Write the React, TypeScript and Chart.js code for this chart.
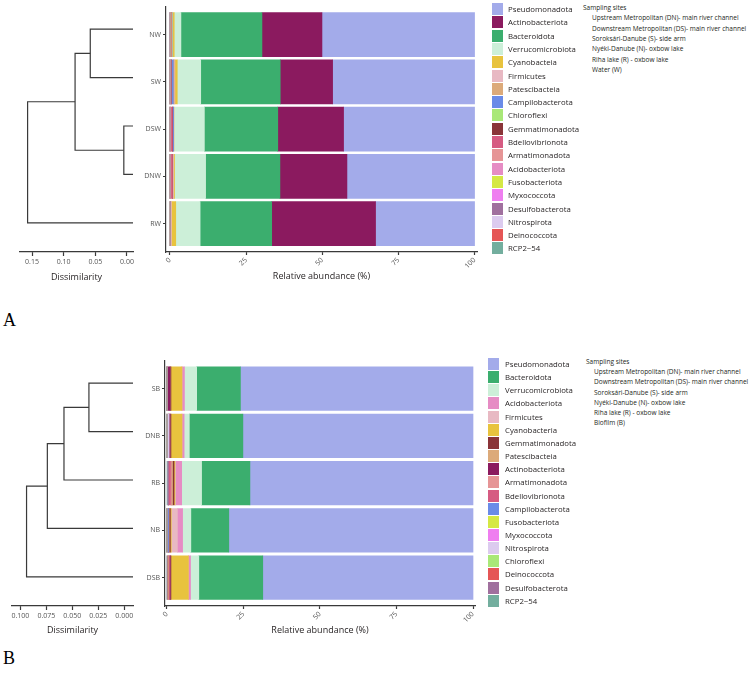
import React, { useEffect, useRef } from "react";
import { Chart, registerables } from "chart.js";
Chart.register(...registerables);

const FONT = "'Open Sans', sans-serif";

// ---------------- Panel A : Water ----------------
const sitesA = ["NW", "SW", "DSW", "DNW", "RW"];
const phylaA = [
  "Pseudomonadota", "Actinobacteriota", "Bacteroidota", "Verrucomicrobiota", "Cyanobacteria",
  "Firmicutes", "Patescibacteria", "Campilobacterota", "Chloroflexi", "Gemmatimonadota",
  "Bdellovibrionota", "Armatimonadota", "Acidobacteriota", "Fusobacteriota", "Myxococcota",
  "Desulfobacterota", "Nitrospirota", "Deinococcota", "RCP2-54",
];
const legendLabelsA = [
  "Pseudomonadota", "Actinobacteriota", "Bacteroidota", "Verrucomicrobiota", "Cyanobacteia",
  "Firmicutes", "Patescibacteia", "Campilobacterota", "Chloroflexi", "Gemmatimonadota",
  "Bdellovibrionota", "Armatimonadota", "Acidobacteriota", "Fusobacteriota", "Myxococcota",
  "Desulfobacterota", "Nitrospirota", "Deinococcota", "RCP2\u221254",
];
// relative abundance (%) per site, in phylaA order
const NW = [50.1, 19.7, 26.6, 2.2, 0.5, 0.2, 0, 0, 0.2, 0, 0.2, 0, 0, 0.3, 0, 0, 0, 0, 0];
const SW = [46.6, 17.2, 26.1, 7.7, 0.8, 0.2, 0.3, 0.7, 0, 0, 0.4, 0, 0, 0, 0, 0, 0, 0, 0];
const DSW = [43.0, 21.6, 24.1, 10.0, 0, 0.1, 0, 0.3, 0, 0.1, 0.5, 0.3, 0, 0, 0, 0, 0, 0, 0];
const DNW = [41.9, 22.0, 24.4, 10.2, 0.3, 0.2, 0.2, 0, 0, 0, 0.5, 0.3, 0, 0, 0, 0, 0, 0, 0];
const RW = [32.5, 34.1, 23.5, 8.0, 1.4, 0.2, 0.2, 0, 0, 0, 0, 0, 0, 0, 0, 0.1, 0, 0, 0];
// dendrogram: [child, child, height]; leaves 0..4, merges numbered from 5
const mergesA: [number, number, number][] = [[0, 1, 0.058], [2, 3, 0.005], [5, 6, 0.082], [7, 4, 0.157]];
const dissTicksA = [0.15, 0.1, 0.05, 0.0];
const sitesTextA = [
  "Upstream Metropolitan (DN)- main river channel",
  "Downstream Metropolitan (DS)- main river channel",
  "Soroksári-Danube (S)- side arm",
  "Nyéki-Danube (N)- oxbow lake",
  "Riha lake (R) - oxbow lake",
  "Water (W)",
];

// ---------------- Panel B : Biofilm ----------------
const sitesB = ["SB", "DNB", "RB", "NB", "DSB"];
const phylaB = [
  "Pseudomonadota", "Bacteroidota", "Verrucomicrobiota", "Acidobacteriota", "Firmicutes",
  "Cyanobacteria", "Gemmatimonadota", "Patescibacteria", "Actinobacteriota", "Armatimonadota",
  "Bdellovibrionota", "Campilobacterota", "Fusobacteriota", "Myxococcota", "Nitrospirota",
  "Chloroflexi", "Deinococcota", "Desulfobacterota", "RCP2-54",
];
const legendLabelsB = [
  "Pseudomonadota", "Bacteroidota", "Verrucomicrobiota", "Acidobacteriota", "Firmicutes",
  "Cyanobacteria", "Gemmatimonadota", "Patescibacteia", "Actinobacteriota", "Armatimonadota",
  "Bdellovibrionota", "Campilobacterota", "Fusobacteriota", "Myxococcota", "Nitrospirota",
  "Chloroflexi", "Deinococcota", "Desulfobacterota", "RCP2\u221254",
];
const SB = [76.0, 14.3, 4.0, 0.8, 0, 3.6, 0.3, 0, 1.0, 0, 0, 0, 0, 0, 0, 0, 0, 0, 0];
const DNB = [75.2, 17.5, 1.7, 0.7, 0, 3.6, 0.3, 0, 0.4, 0, 0, 0, 0, 0, 0.6, 0, 0, 0, 0];
const RB = [72.9, 15.8, 6.5, 2.0, 0.2, 0.3, 0.5, 0.3, 0, 0.4, 0.6, 0, 0, 0, 0, 0, 0, 0.5, 0];
const NB = [79.8, 12.4, 2.7, 1.7, 2.0, 0.3, 0.4, 0.2, 0, 0, 0, 0.5, 0, 0, 0, 0, 0, 0, 0];
const DSB = [68.7, 20.9, 2.7, 0.7, 0, 5.7, 0.2, 0, 0.4, 0, 0.3, 0, 0, 0, 0, 0, 0.4, 0, 0];
const mergesB: [number, number, number][] = [[0, 1, 0.034], [5, 2, 0.058], [6, 3, 0.074], [7, 4, 0.094]];
const dissTicksB = [0.1, 0.075, 0.05, 0.025, 0.0];
const sitesTextB = [
  "Upstream Metropolitan (DN)- main river channel",
  "Downstream Metropolitan (DS)- main river channel",
  "Soroksári-Danube (S)- side arm",
  "Nyéki-Danube (N)- oxbow lake",
  "Riha lake (R) - oxbow lake",
  "Biofilm (B)",
];

const abundanceTicks = [0, 25, 50, 75, 100];

const COLORS: Record<string, string> = {
  Pseudomonadota: "#a3abea",
  Actinobacteriota: "#8b1a5f",
  Bacteroidota: "#3bae6e",
  Verrucomicrobiota: "#ccefd8",
  Cyanobacteria: "#e8c33e",
  Firmicutes: "#e8b9c3",
  Patescibacteria: "#dcaa7a",
  Campilobacterota: "#6a8be8",
  Chloroflexi: "#a9e878",
  Gemmatimonadota: "#8a3438",
  Bdellovibrionota: "#d65b82",
  Armatimonadota: "#e69596",
  Acidobacteriota: "#e68cc4",
  Fusobacteriota: "#d5e845",
  Myxococcota: "#ef7ef0",
  Desulfobacterota: "#a0709e",
  Nitrospirota: "#dccbef",
  Deinococcota: "#e55656",
  "RCP2-54": "#73ae9e",
};

const AXIS = "#3a3a3a";
const TICKTXT = "#555555";
const TEXT = "#231f20";

type DendroProps = {
  left: number; top: number; width: number; height: number;
  nLeaves: number; merges: [number, number, number][]; leafEnd: number;
  xMax: number; ticks: number[]; decimals: number;
  padLeft: number; padRight: number; axisHeight: number; titleGap: number;
};

function Dendrogram(p: DendroProps) {
  const ref = useRef<HTMLCanvasElement>(null);
  useEffect(() => {
    const pos: { x: number; y: number }[] = [];
    for (let i = 0; i < p.nLeaves; i++) pos.push({ x: p.leafEnd, y: i + 1 });
    const datasets = p.merges.map(([a, b, h]) => {
      const A = pos[a], B = pos[b];
      pos.push({ x: h, y: (A.y + B.y) / 2 });
      return {
        data: [{ x: A.x, y: A.y }, { x: h, y: A.y }, { x: h, y: B.y }, { x: B.x, y: B.y }],
        showLine: true, borderColor: AXIS, borderWidth: 1.2, pointRadius: 0, fill: false, tension: 0,
        borderJoinStyle: "miter" as const,
      };
    });
    const chart = new Chart(ref.current!, {
      type: "scatter",
      data: { datasets },
      options: {
        animation: false, responsive: false, devicePixelRatio: 1,
        layout: { padding: { left: p.padLeft, right: p.padRight, top: 0, bottom: 0 } },
        plugins: { legend: { display: false }, tooltip: { enabled: false } },
        scales: {
          x: {
            type: "linear", reverse: true, min: p.leafEnd, max: p.xMax,
            afterBuildTicks: (s: any) => { s.ticks = p.ticks.map((v) => ({ value: v })); },
            afterFit: (s: any) => { s.height = p.axisHeight; },
            ticks: {
              callback: (v: any) => Number(v).toFixed(p.decimals),
              font: { size: 7, family: FONT }, color: TICKTXT, padding: 2, maxRotation: 0, autoSkip: false,
            },
            grid: { drawOnChartArea: false, tickLength: 4, tickColor: AXIS, tickWidth: 1.2 },
            border: { display: true, color: AXIS, width: 1.2 },
            title: { display: true, text: "Dissimilarity", font: { size: 9, family: FONT }, color: TEXT, padding: { top: 4, bottom: p.titleGap } },
          },
          y: { type: "linear", display: false, min: 0.4, max: 5.6, reverse: true, offset: false },
        },
      },
    });
    return () => chart.destroy();
  }, []);
  return (
    <canvas ref={ref} width={p.width} height={p.height}
      style={{ position: "absolute", left: p.left, top: p.top, width: p.width, height: p.height }} />
  );
}

type BarProps = {
  left: number; top: number; width: number; height: number;
  sites: string[]; phyla: string[]; values: number[][];
  xMin: number; xMax: number; yAxisWidth: number; padRight: number; axisHeight: number; titleGap: number;
  barThickness: number;
};

function StackedBars(p: BarProps) {
  const ref = useRef<HTMLCanvasElement>(null);
  useEffect(() => {
    const datasets = p.phyla.map((ph, k) => ({
      label: ph,
      data: p.values.map((row, i) => ({ x: row[k], y: i + 1 })),
      backgroundColor: COLORS[ph],
      borderWidth: 0,
      barThickness: p.barThickness,
    })).reverse();
    const chart = new Chart(ref.current!, {
      type: "bar",
      data: { datasets },
      options: {
        indexAxis: "y",
        animation: false, responsive: false, devicePixelRatio: 1,
        layout: { padding: { left: 0, right: p.padRight, top: 0, bottom: 0 } },
        plugins: { legend: { display: false }, tooltip: { enabled: false } },
        scales: {
          x: {
            type: "linear", stacked: true, min: p.xMin, max: p.xMax, offset: false,
            afterBuildTicks: (s: any) => { s.ticks = abundanceTicks.map((v) => ({ value: v })); },
            afterFit: (s: any) => { s.height = p.axisHeight; },
            ticks: { font: { size: 7, family: FONT }, color: TICKTXT, padding: 1, minRotation: 45, maxRotation: 45, autoSkip: false },
            grid: { drawOnChartArea: false, tickLength: 3, tickColor: AXIS, tickWidth: 1.2, offset: false },
            border: { display: true, color: AXIS, width: 1.2 },
            title: { display: true, text: "Relative abundance (%)", font: { size: 9, family: FONT }, color: TEXT, padding: { top: 2, bottom: p.titleGap } },
          },
          y: {
            type: "linear", stacked: true, reverse: true, min: 0.4, max: 5.6, offset: false,
            afterBuildTicks: (s: any) => { s.ticks = p.sites.map((_, i) => ({ value: i + 1 })); },
            afterFit: (s: any) => { s.width = p.yAxisWidth; },
            ticks: {
              callback: (v: any) => p.sites[Math.round(Number(v)) - 1],
              font: { size: 7, family: FONT }, color: TICKTXT, padding: 2, autoSkip: false,
            },
            grid: { drawOnChartArea: false, tickLength: 3, tickColor: AXIS, tickWidth: 1.2, offset: false },
            border: { display: true, color: AXIS, width: 1.2 },
          },
        },
      },
    });
    return () => chart.destroy();
  }, []);
  return (
    <canvas ref={ref} width={p.width} height={p.height}
      style={{ position: "absolute", left: p.left, top: p.top, width: p.width, height: p.height }} />
  );
}

function Legend(p: { left: number; top: number; step: number; textLeft: number; phyla: string[]; labels: string[] }) {
  return (
    <>
      {p.phyla.map((ph, i) => (
        <div key={ph} style={{ position: "absolute", left: p.left, top: p.top + i * p.step, height: 12 }}>
          <div style={{ position: "absolute", left: 0, top: 0, width: 11, height: 12, background: COLORS[ph] }} />
          <div style={{ position: "absolute", left: p.textLeft, top: 0, lineHeight: "12px", fontSize: 7.8, fontFamily: FONT, color: TEXT, whiteSpace: "nowrap" }}>
            {p.labels[i]}
          </div>
        </div>
      ))}
    </>
  );
}

function SitesText(p: { left: number; top: number; step: number; indent: number; lines: string[] }) {
  const st = { position: "absolute" as const, lineHeight: "10px", fontSize: 6.5, fontFamily: FONT, color: TEXT, whiteSpace: "nowrap" as const };
  return (
    <>
      <div style={{ ...st, left: p.left, top: p.top }}>Sampling sites</div>
      {p.lines.map((t, i) => (
        <div key={t} style={{ ...st, left: p.left + p.indent, top: p.top + (i + 1) * p.step }}>{t}</div>
      ))}
    </>
  );
}

export default function App() {
  return (
    <div style={{ position: "absolute", left: 0, top: 0, width: 751, height: 679, background: "#fff", overflow: "hidden" }}>
      {/* Panel A */}
      <Dendrogram left={0} top={0} width={145} height={290} nLeaves={5} merges={mergesA}
        leafEnd={-0.0095} xMax={0.169} ticks={dissTicksA} decimals={2}
        padLeft={20} padRight={12} axisHeight={38} titleGap={7} />
      <StackedBars left={135} top={0} width={355} height={290} sites={sitesA} phyla={phylaA}
        values={[NW, SW, DSW, DNW, RW]} xMin={-1.3} xMax={100.8} yAxisWidth={31} padRight={13} axisHeight={38} titleGap={8}
        barThickness={44} />
      <Legend left={492} top={3} step={13.3} textLeft={16} phyla={phylaA} labels={legendLabelsA} />
      <SitesText left={583} top={3} step={10.3} indent={9} lines={sitesTextA} />
      <div style={{ position: "absolute", left: 3, top: 309, fontSize: 18, lineHeight: "22px", fontFamily: "'Liberation Serif', serif", color: "#000" }}>A</div>

      {/* Panel B */}
      <Dendrogram left={0} top={354} width={145} height={292} nLeaves={5} merges={mergesB}
        leafEnd={-0.0084} xMax={0.108} ticks={dissTicksB} decimals={3}
        padLeft={12} padRight={12} axisHeight={40} titleGap={10} />
      <StackedBars left={133} top={354} width={357} height={292} sites={sitesB} phyla={phylaB}
        values={[SB, DNB, RB, NB, DSB]} xMin={-0.65} xMax={100.65} yAxisWidth={32} padRight={15} axisHeight={40} titleGap={10}
        barThickness={43.5} />
      <Legend left={488} top={358} step={13.15} textLeft={17} phyla={phylaB} labels={legendLabelsB} />
      <SitesText left={586} top={357} step={10.2} indent={8} lines={sitesTextB} />
      <div style={{ position: "absolute", left: 3, top: 647, fontSize: 18, lineHeight: "22px", fontFamily: "'Liberation Serif', serif", color: "#000" }}>B</div>
    </div>
  );
}
